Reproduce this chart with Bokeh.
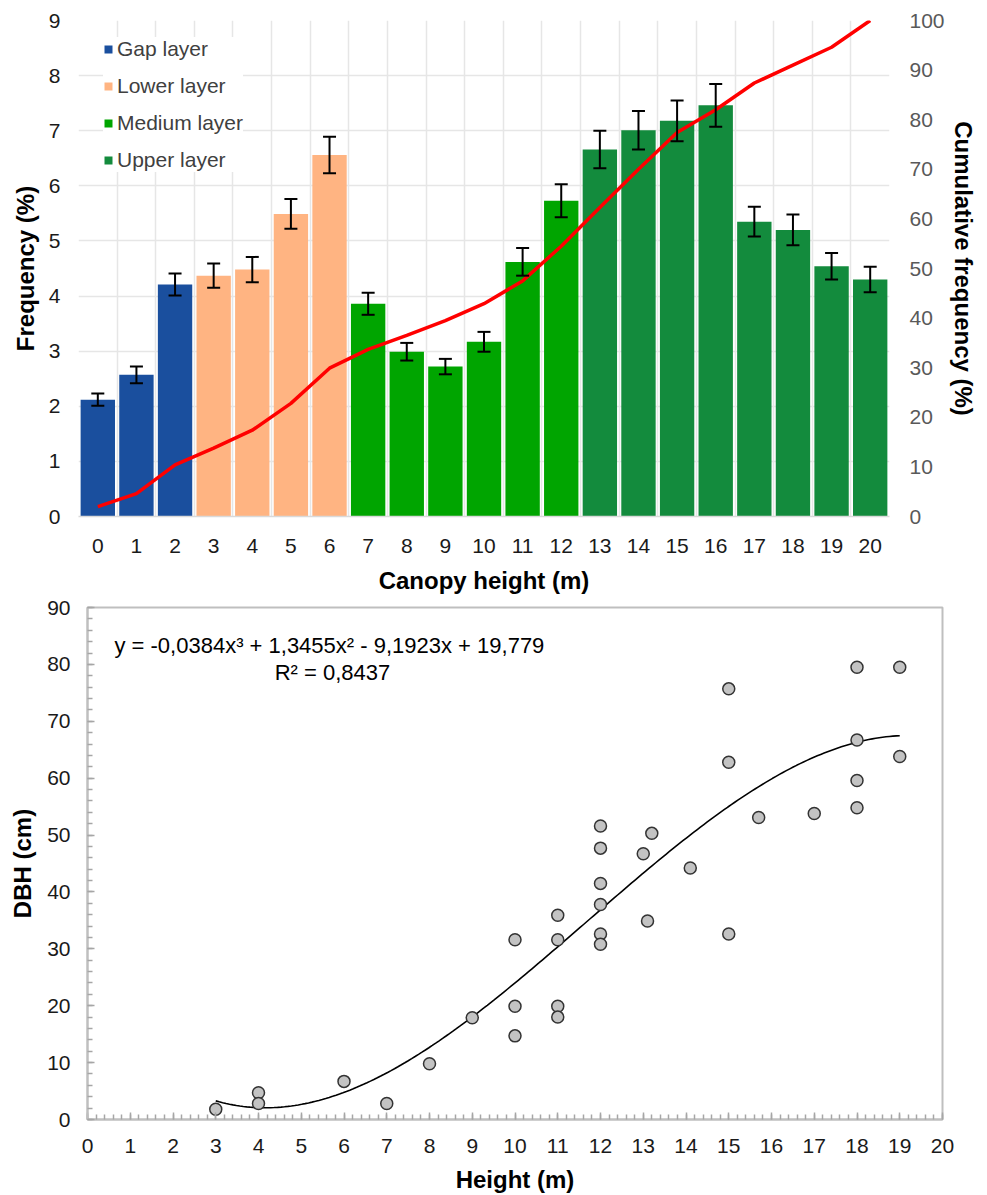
import numpy as np
from bokeh.plotting import figure
from bokeh.models import (Range1d, LinearAxis, FixedTicker, SingleIntervalTicker,
                          Whisker, TeeHead, ColumnDataSource, Label)
from bokeh.embed import file_html
from bokeh.resources import INLINE

FONT = "Liberation Sans"

# ---------------- Top chart data ----------------
HEIGHT_CLASSES = list(range(21))
FREQ = [2.12, 2.57, 4.21, 4.37, 4.48, 5.49, 6.56, 3.86, 2.99, 2.72, 3.17,
        4.62, 5.73, 6.66, 7.01, 7.18, 7.46, 5.35, 5.20, 4.54, 4.30]
FREQ_ERR = [0.11, 0.15, 0.20, 0.22, 0.23, 0.27, 0.33, 0.20, 0.16, 0.14, 0.18,
            0.25, 0.30, 0.34, 0.35, 0.37, 0.39, 0.27, 0.28, 0.24, 0.23]
CUM_FREQ = [2.0, 4.6, 10.4, 13.8, 17.4, 22.8, 29.9, 33.7, 36.5, 39.5, 42.9,
            47.5, 54.5, 62.3, 70.0, 77.4, 82.0, 87.4, 91.0, 94.6, 100.0]
LAYER_INDEX = [0, 0, 0, 1, 1, 1, 1, 2, 2, 2, 2, 2, 2, 3, 3, 3, 3, 3, 3, 3, 3]
LAYER_NAMES = ["Gap layer", "Lower layer", "Medium layer", "Upper layer"]
LAYER_COLORS = ["#1a4f9e", "#ffb482", "#00a500", "#138b3d"]
FREQ_TICKS = list(range(10))
CUM_TICKS = list(range(0, 101, 10))

# ---------------- Bottom chart data ----------------
TREE_HEIGHT = [3, 4, 4, 6, 7, 8, 9, 10, 10, 10, 11, 11, 11, 11,
               12, 12, 12, 12, 12, 12, 13, 13.2, 13.1, 14.1,
               15, 15, 15, 15.7, 17, 18, 18, 18, 18, 19, 19]
TREE_DBH = [1.8, 4.7, 2.8, 6.7, 2.8, 9.8, 17.9, 31.6, 19.9, 14.7, 35.9, 31.6, 19.9, 18.0,
            51.6, 47.7, 41.5, 37.8, 32.6, 30.8, 46.7, 50.3, 34.9, 44.2,
            75.7, 62.8, 32.6, 53.1, 53.8, 79.5, 66.7, 59.6, 54.8, 79.5, 63.8]
TREND_COEFFS = [-0.0384, 1.3455, -9.1923, 19.779]
TREND_RANGE = [3, 19]
EQUATION = "y = -0,0384x\u00b3 + 1,3455x\u00b2 - 9,1923x +  19,779"
R2_TEXT = "R\u00b2 = 0,8437"

W = 985

# ================= Top figure =================
p1 = figure(width=W, height=596, x_range=Range1d(-0.5, 20.5), y_range=Range1d(0, 9),
            output_backend="svg", toolbar_location=None,
            min_border_left=78, min_border_right=W - 889, min_border_top=20, min_border_bottom=77)
p1.extra_y_ranges = {"cum": Range1d(0, 100)}
p1.outline_line_color = None
p1.background_fill_color = "white"

for k, name in enumerate(LAYER_NAMES):
    idx = [i for i, l in enumerate(LAYER_INDEX) if l == k]
    src = ColumnDataSource(dict(x=[HEIGHT_CLASSES[i] for i in idx],
                                top=[FREQ[i] for i in idx]))
    p1.vbar(x="x", top="top", width=0.89, source=src, fill_color=LAYER_COLORS[k],
            line_color=None, legend_label=name)

err_src = ColumnDataSource(dict(x=HEIGHT_CLASSES,
                                upper=[f + e for f, e in zip(FREQ, FREQ_ERR)],
                                lower=[f - e for f, e in zip(FREQ, FREQ_ERR)]))
p1.add_layout(Whisker(base="x", upper="upper", lower="lower", source=err_src,
                      level="glyph", line_width=2, line_color="black",
                      upper_head=TeeHead(size=13, line_width=2, line_color="black"),
                      lower_head=TeeHead(size=13, line_width=2, line_color="black")))

p1.line(HEIGHT_CLASSES, CUM_FREQ, y_range_name="cum", line_color="#ff0000", line_width=3.5)

# grids
p1.xgrid.ticker = FixedTicker(ticks=[h - 0.5 for h in HEIGHT_CLASSES] + [HEIGHT_CLASSES[-1] + 0.5])
p1.ygrid.ticker = FixedTicker(ticks=FREQ_TICKS)
p1.grid.grid_line_color = "#e6e6e6"
p1.grid.grid_line_width = 1.5

# axes
p1.xaxis.ticker = FixedTicker(ticks=HEIGHT_CLASSES)
p1.yaxis.ticker = FixedTicker(ticks=FREQ_TICKS)
for ax in (p1.xaxis[0], p1.yaxis[0]):
    ax.major_tick_line_color = None
    ax.minor_tick_line_color = None
    ax.major_tick_out = 0
    ax.major_tick_in = 0
    ax.minor_tick_out = 0
    ax.minor_tick_in = 0
    ax.major_label_text_font = FONT
    ax.major_label_text_font_size = "21px"
    ax.major_label_text_color = "#1a1a1a"
    ax.axis_label_text_font = FONT
    ax.axis_label_text_font_size = "24px"
    ax.axis_label_text_font_style = "bold"
    ax.axis_label_text_color = "black"
p1.xaxis.axis_line_color = "#d9d9d9"
p1.xaxis.axis_line_width = 1.5
p1.xaxis.major_label_standoff = 22
p1.xaxis.axis_label = "Canopy height (m)"
p1.xaxis.axis_label_standoff = 11
p1.yaxis.axis_line_color = None
p1.yaxis.major_label_standoff = 18
p1.yaxis.axis_label = "Frequency (%)"
p1.yaxis.axis_label_standoff = 7

ax_r = LinearAxis(y_range_name="cum", ticker=FixedTicker(ticks=CUM_TICKS),
                  axis_label="Cumulative frequency (%)")
ax_r.axis_line_color = None
ax_r.major_tick_line_color = None
ax_r.minor_tick_line_color = None
ax_r.major_tick_out = 0
ax_r.major_tick_in = 0
ax_r.minor_tick_out = 0
ax_r.minor_tick_in = 0
ax_r.major_label_text_font = FONT
ax_r.major_label_text_font_size = "21px"
ax_r.major_label_text_color = "#595959"
ax_r.major_label_standoff = 20
ax_r.axis_label_text_font = FONT
ax_r.axis_label_text_font_size = "24px"
ax_r.axis_label_text_font_style = "bold"
ax_r.axis_label_text_color = "black"
ax_r.axis_label_standoff = 2
p1.add_layout(ax_r, "right")

lg = p1.legend[0]
lg.location = (25, 344)
lg.margin = 0
lg.padding = 6
lg.spacing = 13
lg.glyph_width = 10
lg.glyph_height = 10
lg.label_standoff = 4
lg.label_text_font = FONT
lg.label_text_font_size = "21px"
lg.label_text_color = "#404040"
lg.border_line_color = None
lg.background_fill_color = "white"
lg.background_fill_alpha = 1.0

# ================= Bottom figure =================
p2 = figure(width=W, height=599, x_range=Range1d(0, 20), y_range=Range1d(0, 90),
            output_backend="svg", toolbar_location=None,
            min_border_left=87, min_border_right=W - 942, min_border_top=11, min_border_bottom=76)
p2.grid.visible = False
p2.outline_line_color = "#bfbfbf"
p2.outline_line_width = 2

xs = np.linspace(TREND_RANGE[0], TREND_RANGE[1], 200)
p2.line(xs, np.polyval(TREND_COEFFS, xs), line_color="black", line_width=1.6)
p2.scatter(TREE_HEIGHT, TREE_DBH, size=12, fill_color="#c3c3c3",
           line_color="#333333", line_width=1.5)

p2.xaxis.ticker = SingleIntervalTicker(interval=1, num_minor_ticks=5)
p2.yaxis.ticker = SingleIntervalTicker(interval=10, num_minor_ticks=5)
for ax in (p2.xaxis[0], p2.yaxis[0]):
    ax.axis_line_color = "#bfbfbf"
    ax.axis_line_width = 2
    ax.major_tick_line_color = "#a6a6a6"
    ax.minor_tick_line_color = "#a6a6a6"
    ax.major_tick_line_width = 1.5
    ax.minor_tick_line_width = 1.5
    ax.major_tick_in = 7
    ax.major_tick_out = 0
    ax.minor_tick_in = 5
    ax.minor_tick_out = 0
    ax.major_label_text_font = FONT
    ax.major_label_text_font_size = "21px"
    ax.major_label_text_color = "#1a1a1a"
    ax.axis_label_text_font = FONT
    ax.axis_label_text_font_size = "24px"
    ax.axis_label_text_font_style = "bold"
    ax.axis_label_text_color = "black"
p2.xaxis.axis_label = "Height (m)"
p2.xaxis.major_label_standoff = 19
p2.xaxis.axis_label_standoff = 10
p2.yaxis.axis_label = "DBH (cm)"
p2.yaxis.major_label_standoff = 17
p2.yaxis.axis_label_standoff = 8

p2.add_layout(Label(x=5.73, y=83.3, text=EQUATION, text_align="center", text_baseline="middle",
                    text_font=FONT, text_font_size="22px", text_color="black"))
p2.add_layout(Label(x=5.73, y=78.6, text=R2_TEXT, text_align="center", text_baseline="middle",
                    text_font=FONT, text_font_size="22px", text_color="black"))

open("out.html", "w").write(file_html([p1, p2], INLINE))
